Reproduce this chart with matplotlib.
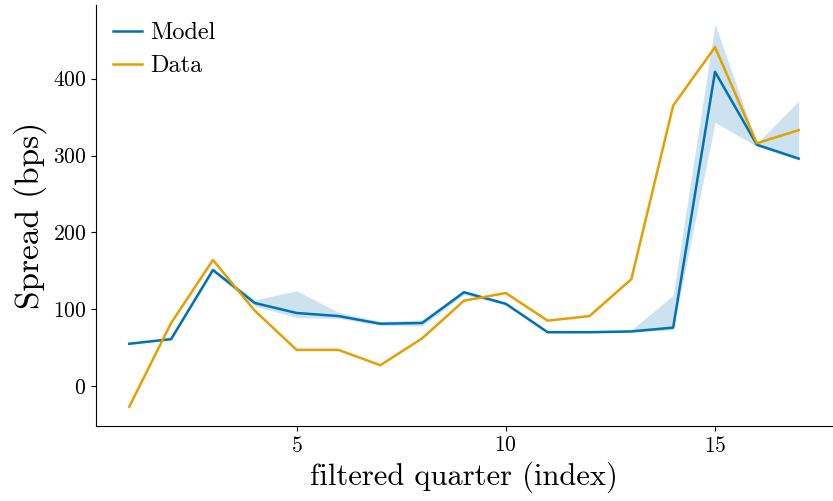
#!/usr/bin/env python
# Model vs data spread by filtered quarter, with model band
import numpy as np
import matplotlib
matplotlib.use("Agg")
import matplotlib.pyplot as plt

plt.rcParams.update({
    "font.family": "serif", "font.serif": ["cmr10"],
    "mathtext.fontset": "cm", "axes.formatter.use_mathtext": True,
    "axes.unicode_minus": False,
})

quarter = np.arange(1, 18)
model = [55, 61, 151, 108, 95, 91, 81, 82, 122, 107, 70, 70, 71, 76, 409, 314, 296]
data = [-27, 82, 164, 98, 47, 47, 27, 62, 111, 121, 85, 91, 139, 365, 441, 316, 333]
band_lo = [54, 60, 148, 104, 89, 88, 79, 78, 119, 105, 69, 69, 70, 73, 343, 312, 294]
band_hi = [56, 63, 153, 112, 124, 96, 84, 86, 124, 108, 71, 71, 73, 118, 471, 316, 371]

BLUE, ORANGE = "#0072B2", "#E69F00"

fig, ax = plt.subplots(figsize=(8.33, 5.01), dpi=100)
fig.subplots_adjust(left=0.115, right=0.999, bottom=0.15, top=0.99)

ax.fill_between(quarter, band_lo, band_hi, color=BLUE, alpha=0.2, linewidth=0)
ax.plot(quarter, model, color=BLUE, lw=1.8, label="Model")
ax.plot(quarter, data, color=ORANGE, lw=1.8, label="Data")

ax.set_xticks([5, 10, 15])
ax.set_yticks([0, 100, 200, 300, 400])
ax.tick_params(labelsize=15.5)
ax.set_xlabel("filtered quarter (index)", fontsize=22)
ax.set_ylabel("Spread (bps)", fontsize=24, labelpad=4)
for sp in ("top", "right"):
    ax.spines[sp].set_visible(False)
ax.legend(loc="upper left", frameon=False, fontsize=17.5, handlelength=1.2,
          handletextpad=0.35, labelspacing=0.45, borderaxespad=0.3)

fig.savefig("out.png", dpi=100)
